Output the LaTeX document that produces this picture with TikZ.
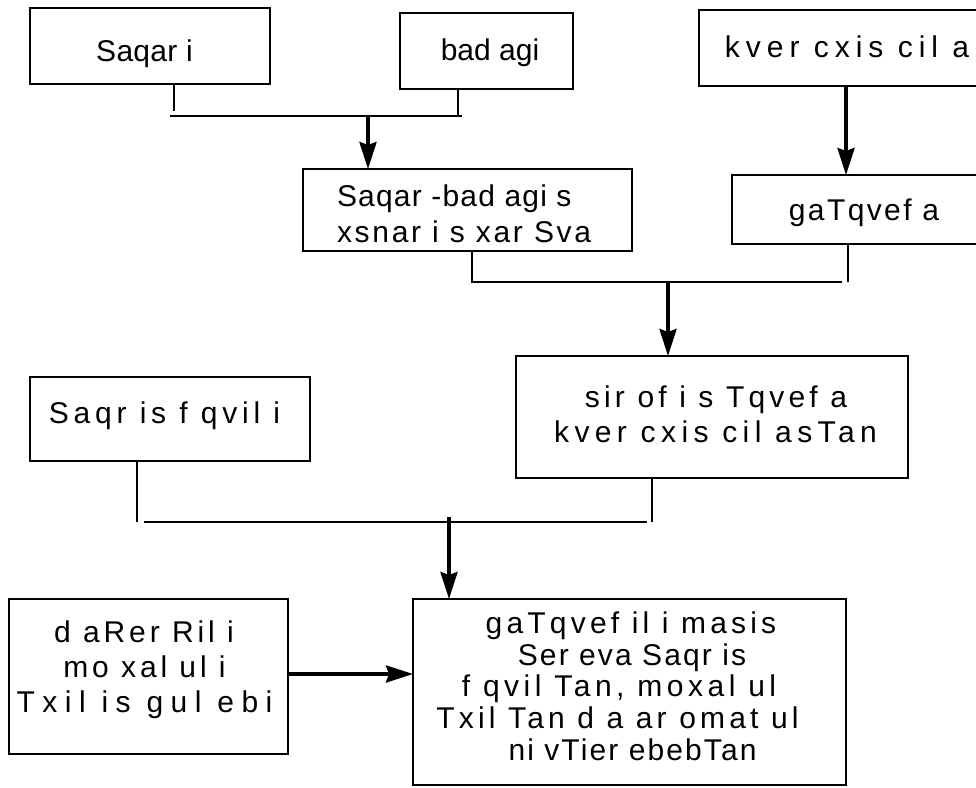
\documentclass[tikz,border=0pt]{standalone}
\usepackage{fontspec}
\setmainfont{Liberation Sans}
\usetikzlibrary{arrows.meta}
\begin{document}
\begin{tikzpicture}[x=1pt,y=-1pt,
  frame/.style={draw, line width=2.4pt, inner sep=0pt, outer sep=0pt},
  lbl/.style={inner sep=0pt, outer sep=0pt, anchor=base,
    font=\fontsize{30}{36}\selectfont\addfontfeature{LetterSpace=#1}},
  link/.style={line width=2.4pt},
  flow/.style={line width=3.6pt, -{Stealth[length=27pt,width=17pt,inset=3pt]}},
]
\useasboundingbox (0,0) rectangle (976,787);

% ---- boxes ----
\node[frame, minimum width=240pt, minimum height=76pt]  (sqr)   at (150,46)    {};
\node[frame, minimum width=173pt, minimum height=76pt]  (bad)   at (486.5,51)  {};
\node[frame, minimum width=296pt, minimum height=76pt]  (egg)   at (847,48)    {};
\node[frame, minimum width=264pt, minimum height=69pt]  (beat)  at (864,209.5) {};
\node[frame, minimum width=329pt, minimum height=82pt]  (mix)   at (467.5,210) {};
\node[frame, minimum width=392pt, minimum height=122pt] (foam)  at (712,417)   {};
\node[frame, minimum width=280pt, minimum height=84pt]  (flour) at (170,419)   {};
\node[frame, minimum width=279pt, minimum height=155pt] (nuts)  at (148.5,676.5) {};
\node[frame, minimum width=433pt, minimum height=186pt] (dough) at (629.5,692) {};

% ---- texts ----
\node[lbl=1]  (sqr-t)  at (144.5,61) {Saqar i};
\node[lbl=0]  (bad-t)  at (490,60)   {bad agi};
\node[lbl=20] (egg-t)  at (847,57)   {kver cxis cil a};
\node[lbl=8]  (beat-t) at (864,220)  {gaTqvef a};
\node[lbl=4, anchor=base west]  (mix-t1) at (337,206) {Saqar -bad agi s};
\node[lbl=9, anchor=base west]  (mix-t2) at (337,242) {xsnar i s xar Sva};
\node[lbl=14] (foam-t1) at (716,407)   {sir of i s Tqvef a};
\node[lbl=18] (foam-t2) at (715.5,442) {kver cxis cil asTan};
\node[lbl=16] (flour-t) at (164.5,423) {Saqr is f qvil i};
\node[lbl=13]   (nuts-t1) at (144,642)   {d aRer Ril i};
\node[lbl=13]   (nuts-t2) at (144.5,677) {mo xal ul i};
\node[lbl=25]   (nuts-t3) at (144.5,712) {Txil is gul ebi};
\node[lbl=14]  (dough-t1) at (631,633)   {gaTqvef il i masis};
\node[lbl=7]   (dough-t2) at (632,665)   {Ser eva Saqr is};
\node[lbl=15]  (dough-t3) at (619,696)   {f qvil Tan, moxal ul};
\node[lbl=14]  (dough-t4) at (617.5,728) {Txil Tan d a ar omat ul};
\node[lbl=7]   (dough-t5) at (632.5,760) {ni vTier ebebTan};

% ---- junction points ----
\coordinate (t1) at (174,111);
\coordinate (t2) at (458,116);
\coordinate (b1l) at (170,116);
\coordinate (b1r) at (462,116);
\coordinate (m1) at (368,116);
\coordinate (e1) at (846,90);
\coordinate (t3) at (472,282);
\coordinate (t4) at (848,282);
\coordinate (b2l) at (471,282);
\coordinate (b2r) at (842,282);
\coordinate (m2) at (668,282);
\coordinate (t5) at (137,522);
\coordinate (t6) at (652,522);
\coordinate (b3l) at (144,522);
\coordinate (b3r) at (647,522);
\coordinate (m3) at (449,517);

% ---- connectors ----
\draw[link] (sqr.south -| t1) -- (t1);
\draw[link] (bad.south -| t2) -- (t2);
\draw[link] (b1l) -- (b1r);
\draw[flow] (m1) -- (mix.north -| m1);

\draw[flow] (egg.south -| e1) -- (beat.north -| e1);

\draw[link] (mix.south -| t3) -- (t3);
\draw[link] (beat.south -| t4) -- (t4);
\draw[link] (b2l) -- (b2r);
\draw[flow] (m2) -- (foam.north -| m2);

\draw[link] (flour.south -| t5) -- (t5);
\draw[link] (foam.south -| t6) -- (t6);
\draw[link] (b3l) -- (b3r);
\draw[flow] (m3) -- (dough.north -| m3);

\draw[flow] (nuts.east |- 0,674) -- (dough.west |- 0,674);
\end{tikzpicture}
\end{document}
